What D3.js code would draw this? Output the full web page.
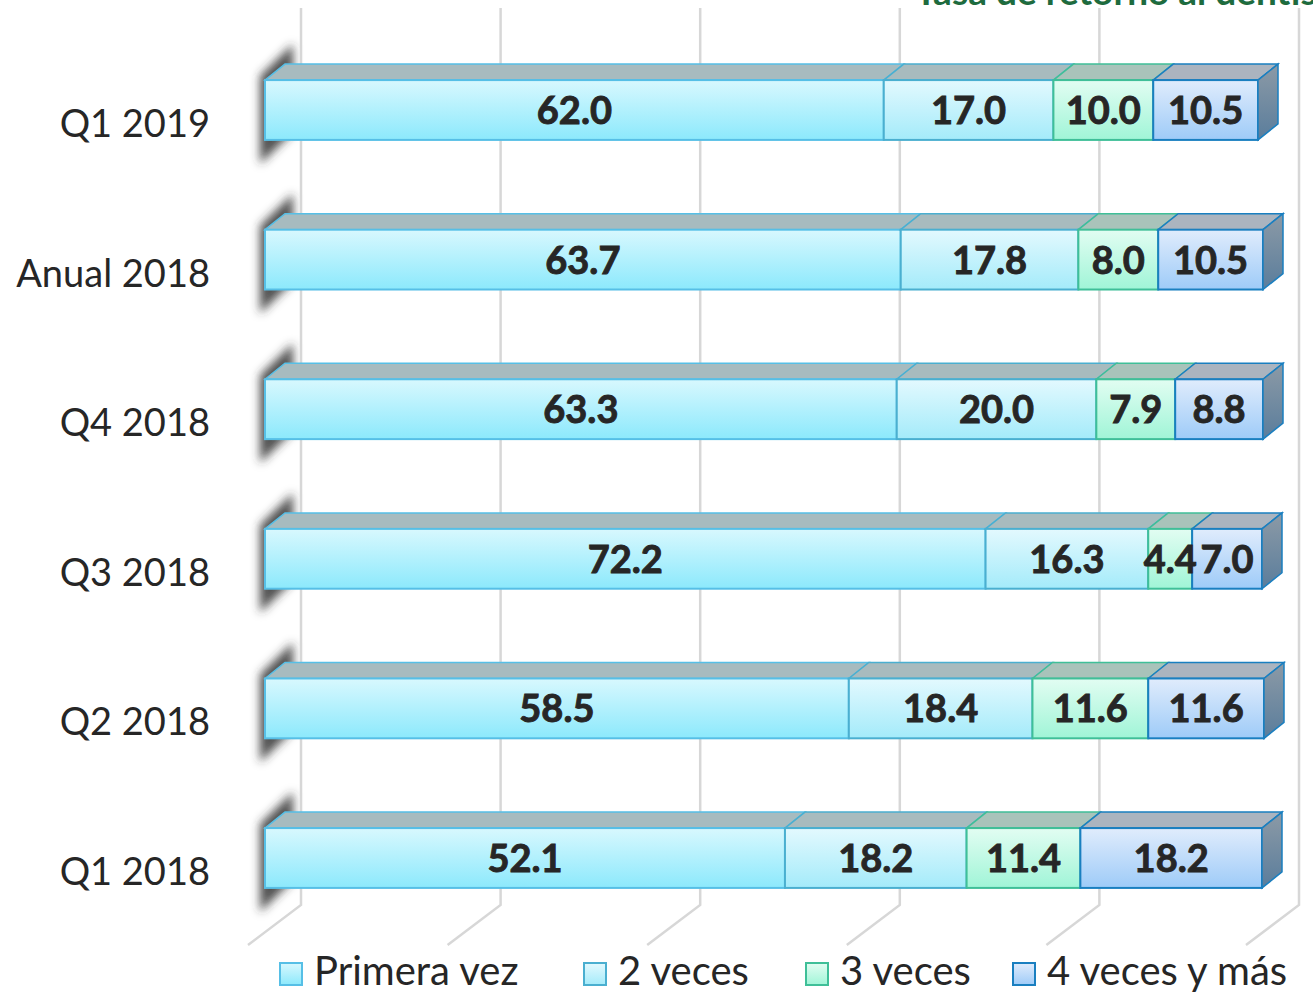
<!DOCTYPE html>
<html>
<head>
<meta charset="utf-8">
<script src="https://cdn.jsdelivr.net/npm/d3@7"></script>
<style>
body { margin: 0; background: #fff; }
svg { display: block; font-family: Lato, "Open Sans", sans-serif; }
</style>
</head>
<body>
<div id="chart"></div>
<script>
var categories = ["Q1 2019", "Anual 2018", "Q4 2018", "Q3 2018", "Q2 2018", "Q1 2018"];
var series = ["Primera vez", "2 veces", "3 veces", "4 veces y más"];
var primera = [62.0, 63.7, 63.3, 72.2, 58.5, 52.1];
var dos = [17.0, 17.8, 20.0, 16.3, 18.4, 18.2];
var tres = [10.0, 8.0, 7.9, 4.4, 11.6, 11.4];
var cuatro = [10.5, 10.5, 8.8, 7.0, 11.6, 18.2];
var gridTicks = [0, 20, 40, 60, 80, 100];

var w = 1313, h = 993;
var depthX = 20, depthY = 16;   // 3d offset of the bars
var wallX = 36;                 // back wall offset of the gridlines

// front gradient top/bottom, stroke, top face
var estilos = [
    {top: "#d8f8fe", bot: "#8ce9fc", stroke: "#56bfe6", cara: "#a7bbbf"},
    {top: "#e3f9fe", bot: "#a4ebfa", stroke: "#4aafd0", cara: "#a8bbbe"},
    {top: "#e2fdf2", bot: "#a0f5d7", stroke: "#3fbf98", cara: "#a9c3ba"},
    {top: "#e0ecfc", bot: "#9ecbf8", stroke: "#1a7fc0", cara: "#abb4bf"}
];

var svg = d3.select("#chart").append("svg")
    .attr("width", w)
    .attr("height", h);

var defs = svg.append("defs");
estilos.forEach(function(e, i) {
    var gr = defs.append("linearGradient").attr("id", "grad" + i)
        .attr("x1", 0).attr("y1", 0).attr("x2", 0).attr("y2", 1);
    gr.append("stop").attr("offset", "0%").attr("stop-color", e.top);
    gr.append("stop").attr("offset", "100%").attr("stop-color", e.bot);
});
var side = defs.append("linearGradient").attr("id", "side")
    .attr("x1", 0).attr("y1", 0).attr("x2", 0).attr("y2", 1);
side.append("stop").attr("offset", "0%").attr("stop-color", "#8c9aa6");
side.append("stop").attr("offset", "100%").attr("stop-color", "#5a7d9c");
defs.append("filter").attr("id", "blur")
    .attr("x", "-50%").attr("y", "-50%").attr("width", "200%").attr("height", "200%")
    .append("feGaussianBlur").attr("stdDeviation", 5);

var x = d3.scaleLinear().domain([0, 100]).range([265, 1263]);
var y = d3.scaleBand().domain(categories).range([35.2, 932.8])
    .paddingInner(0.6).paddingOuter(0.3);

var rows = categories.map(function(c, i) {
    var vals = [primera[i], dos[i], tres[i], cuatro[i]];
    var acc = 0;
    return {cat: c, segs: vals.map(function(v, k) {
        var s = {k: k, v: v, a: acc, b: acc + v};
        acc += v;
        return s;
    })};
});

// title, cut by the top border as in the source
svg.append("text")
    .attr("x", 915).attr("y", 5)
    .attr("font-size", 37).attr("font-weight", "bold")
    .attr("fill", "#1e6b3e")
    .text("Tasa de retorno al dentista");

// shadows on the wall
svg.append("g").attr("filter", "url(#blur)")
    .selectAll("polygon").data(rows).enter().append("polygon")
    .attr("points", function(d) {
        var t = y(d.cat), b = t + y.bandwidth();
        return [[260, t - 4], [293, t - 36], [293, b - 8], [260, b + 24]].join(" ");
    })
    .attr("fill", "#333").attr("opacity", 0.85);

// gridlines: wall + floor
var gy1 = 8, gy2 = 905;
var grid = svg.append("g");
grid.selectAll("path").data(gridTicks).enter().append("path")
    .attr("d", function(d) {
        var gx = x(d) + wallX;
        return "M" + gx + "," + gy1 + "L" + gx + "," + gy2 + "L" + (gx - 53) + "," + (gy2 + 40);
    })
    .attr("fill", "none").attr("stroke", "#d7d7d7").attr("stroke-width", 2.5);

// bars
var bar = svg.selectAll("g.bar").data(rows).enter().append("g").attr("class", "bar");

bar.each(function(d) {
    var g = d3.select(this);
    var t = y(d.cat), b = t + y.bandwidth();
    d.segs.forEach(function(s) {
        var x0 = x(s.a), x1 = x(s.b), e = estilos[s.k];
        g.append("polygon")
            .attr("points", [[x0, t], [x0 + depthX, t - depthY], [x1 + depthX, t - depthY], [x1, t]].join(" "))
            .attr("fill", e.cara).attr("stroke", e.stroke).attr("stroke-width", 1.5);
        g.append("rect")
            .attr("x", x0).attr("y", t)
            .attr("width", x1 - x0).attr("height", b - t)
            .attr("fill", "url(#grad" + s.k + ")")
            .attr("stroke", e.stroke).attr("stroke-width", 2);
    });
    var last = d.segs[d.segs.length - 1], xe = x(last.b);
    g.append("polygon")
        .attr("points", [[xe, t], [xe + depthX, t - depthY], [xe + depthX, b - depthY], [xe, b]].join(" "))
        .attr("fill", "url(#side)").attr("stroke", estilos[3].stroke).attr("stroke-width", 1.5);
    d.segs.forEach(function(s) {
        g.append("text")
            .attr("x", (x(s.a) + x(s.b)) / 2)
            .attr("y", (t + b) / 2 + 14)
            .attr("text-anchor", "middle")
            .attr("font-size", 38).attr("font-weight", "bold")
            .attr("fill", "#262626")
            .attr("stroke", "#262626").attr("stroke-width", 0.9)
            .text(s.v.toFixed(1));
    });
});

// category labels
svg.append("g").selectAll("text").data(categories).enter().append("text")
    .attr("x", 210)
    .attr("y", function(d) { return y(d) + y.bandwidth() / 2 + 27; })
    .attr("text-anchor", "end")
    .attr("font-size", 38)
    .attr("fill", "#262626")
    .text(function(d) { return d; });

// legend
var legX = [280, 584, 806, 1013];
var leg = svg.append("g").selectAll("g").data(series).enter().append("g")
    .attr("transform", function(d, i) { return "translate(" + legX[i] + ",963)"; });
leg.append("rect")
    .attr("width", 22).attr("height", 22)
    .attr("fill", function(d, i) { return "url(#grad" + i + ")"; })
    .attr("stroke", function(d, i) { return estilos[i].stroke; })
    .attr("stroke-width", 2);
leg.append("text")
    .attr("x", 34).attr("y", 22)
    .attr("font-size", 40)
    .attr("fill", "#262626")
    .text(function(d) { return d; });
</script>
</body>
</html>
